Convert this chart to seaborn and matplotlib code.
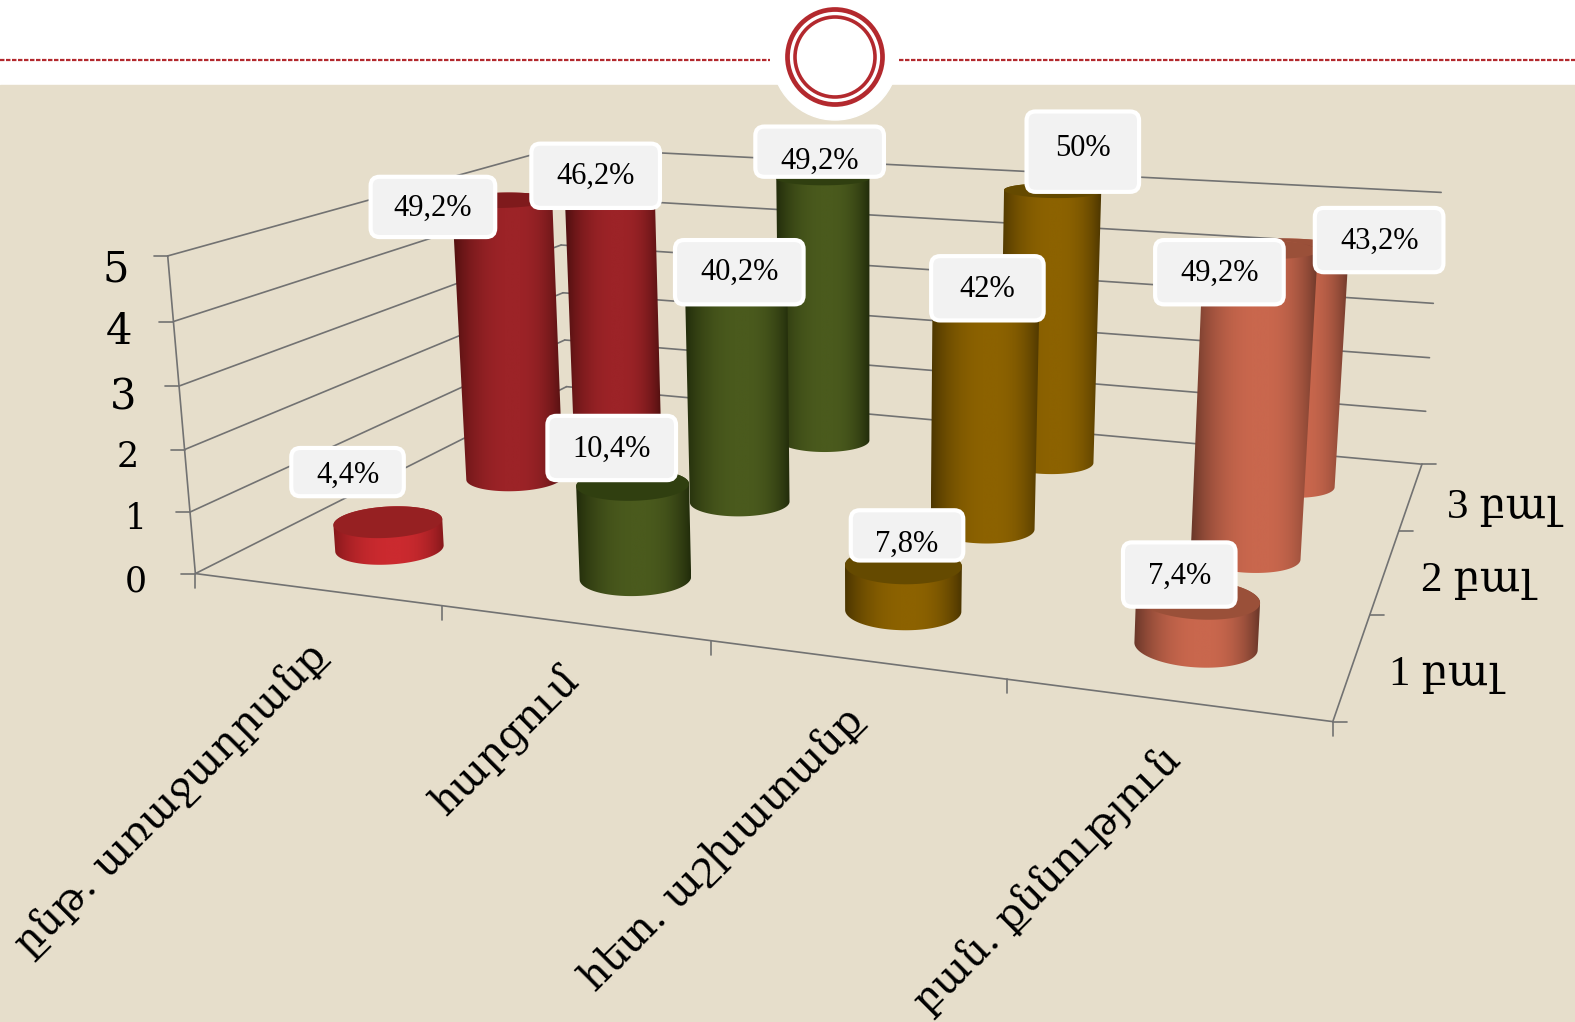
import numpy as np
import pandas as pd
import seaborn as sns
import matplotlib.pyplot as plt
from matplotlib.patches import Circle, FancyBboxPatch, Polygon, Rectangle

# chart values
categories = ["ընթ. առաջադրանք", "հարցում", "հետ. աշխատանք", "բան. քննություն"]
series_names = ["1 բալ", "2 բալ", "3 բալ"]
share_1 = [4.4, 10.4, 7.8, 7.4]
share_2 = [49.2, 40.2, 42, 49.2]
share_3 = [46.2, 49.2, 50, 43.2]
# bar heights
height_1 = [0.44, 1.5, 0.7, 0.7]
height_2 = [5.0, 4.02, 4.2, 4.95]
height_3 = [4.62, 5.0, 5.0, 4.25]
value_ticks = [0, 1, 2, 3, 4, 5]

SERIF = ["Liberation Serif", "DejaVu Serif"]
ARM = ["DejaVu Serif"]

# colours per category: centre, edge, top
body_mid = ["#9c2327", "#4a5a1d", "#8c6200", "#c9674d"]
body_edge = ["#4f0f0f", "#222c0b", "#4c3600", "#6a3729"]
top_colors = ["#7f1a1c", "#303f10", "#654a00", "#9a5039"]
# the short red bar is lit brighter than the rest
short_red = ("#cb2a2f", "#86181b", "#962022")

# label boxes: centre x, centre y, width, height, text y (series rows, category columns)
boxes_1 = [(346, 470, 114, 50, 473), (609, 446, 130, 66, 447), (903, 533, 114, 52, 542), (1174, 572, 114, 66, 574)]
boxes_2 = [(431, 206, 126, 62, 207), (736, 271, 130, 66, 271), (983, 287, 114, 66, 288), (1214, 271, 130, 66, 272)]
boxes_3 = [(593, 175, 130, 66, 176), (816, 151, 130, 52, 161), (1078, 151, 114, 82, 148), (1373, 239, 130, 66, 240)]
SCALE = 1575 / 1568

sns.set_theme(style="white")
plt.rcParams["font.family"] = SERIF

df = pd.DataFrame({"cat": np.tile(range(4), 3),
                   "row": np.repeat(range(3), 4),
                   "pct": share_1 + share_2 + share_3,
                   "height": height_1 + height_2 + height_3})

# camera fitted from the box corners of the chart: (category, depth, value) -> pixel
box_pts = np.array([[0, 0, 0], [0, 0, 5], [4, 0, 0], [4, 3, 0], [4, 3, 5], [0, 3, 0], [0, 3, 5]], float)
box_px = np.array([[193, 574], [170, 256], [1333, 721], [1421, 465], [1442, 192], [569, 386], [555, 148]], float)


def fit_camera(pts, px):
    rows, rhs = [], []
    for (x, y, z), (u, v) in zip(pts, px):
        rows.append([x, y, z, 1, 0, 0, 0, 0, -u * x, -u * y, -u * z])
        rows.append([0, 0, 0, 0, x, y, z, 1, -v * x, -v * y, -v * z])
        rhs += [u, v]
    p = np.linalg.lstsq(np.array(rows), np.array(rhs), rcond=None)[0]
    return np.append(p, 1).reshape(3, 4)


CAM = fit_camera(box_pts, box_px)


def project(x, y, z):
    x, y, z = np.broadcast_arrays(x, y, z)
    h = CAM @ np.vstack([x.ravel(), y.ravel(), z.ravel(), np.ones(x.size)])
    return h[0] / h[2], h[1] / h[2]


def convex_hull(points):
    points = sorted(set(points))

    def half(seq):
        out = []
        for p in seq:
            while len(out) > 1 and ((out[-1][0] - out[-2][0]) * (p[1] - out[-2][1])
                                    - (out[-1][1] - out[-2][1]) * (p[0] - out[-2][0])) <= 0:
                out.pop()
            out.append(p)
        return out[:-1]

    return half(points) + half(points[::-1])


fig = plt.figure(figsize=(15.75, 10.22), dpi=100)
ax = fig.add_axes([0, 0, 1, 1])

# background and header band
ax.add_patch(Rectangle((0, 85), 1575, 937, color="#e6decb", zorder=0))
ax.add_patch(Circle((835, 57), 63, color="white", zorder=1))
ax.plot([0, 770], [60, 60], color="#b3292e", lw=1.6, ls=(0, (2.0, 0.7)), zorder=1)
ax.plot([899, 1575], [60, 60], color="#b3292e", lw=1.6, ls=(0, (2.0, 0.7)), zorder=1)
ax.add_patch(Circle((835, 57), 47.5, fill=False, ec="#b3292e", lw=3.4, zorder=2))
ax.add_patch(Circle((835, 57), 40, fill=False, ec="#b3292e", lw=2.6, zorder=2))

GRID = "#727272"
GRID_LW = 1.2


def line3d(a, b):
    u, v = project(np.array([a[0], b[0]]), np.array([a[1], b[1]]), np.array([a[2], b[2]]))
    ax.plot(u, v, color=GRID, lw=GRID_LW, zorder=3)


# walls and floor
for val in value_ticks:
    line3d((0, 0, val), (0, 3, val))
    line3d((0, 3, val), (4, 3, val))
    u, v = project(0, 0, val)
    ax.plot([u[0] - 14, u[0]], [v[0], v[0]], color=GRID, lw=GRID_LW, zorder=3)
line3d((0, 0, 0), (0, 0, 5))
line3d((0, 0, 0), (4, 0, 0))
line3d((4, 0, 0), (4, 3, 0))
for c in range(5):
    u, v = project(c, 0, 0)
    ax.plot([u[0], u[0]], [v[0], v[0] + 14], color=GRID, lw=GRID_LW, zorder=3)
for d in range(4):
    u, v = project(4, d, 0)
    ax.plot([u[0], u[0] + 14], [v[0], v[0]], color=GRID, lw=GRID_LW, zorder=3)

RADIUS = 0.198
theta = np.linspace(0, 2 * np.pi, 181)


def draw_cylinder(c, r, height, order):
    mid, edge, top = body_mid[c], body_edge[c], top_colors[c]
    if c == 0 and r == 0:
        mid, edge, top = short_red
    ramp = sns.blend_palette([mid, edge], n_colors=100)
    cx, cy = c + 0.5, r + 0.5
    xs = cx + RADIUS * np.cos(theta)
    ys = cy + RADIUS * np.sin(theta)
    ub, vb = project(xs, ys, 0)
    ut, vt = project(xs, ys, height)
    lo, hi = min(ub.min(), ut.min()), max(ub.max(), ut.max())
    # horizontal shading, darkest at the two edges, clipped to the outline
    frac = np.linspace(0, 1, 200)
    dist = np.abs(frac - 0.55) / np.where(frac < 0.55, 0.55, 0.45)
    shade = np.array([ramp[min(int(d ** 2.4 * 100), 99)] for d in dist])[np.newaxis, :, :]
    img = ax.imshow(shade, extent=(lo, hi, max(vb.max(), vt.max()) + 3, min(vb.min(), vt.min()) - 3),
                    aspect="auto", interpolation="bilinear", zorder=order)
    outline = convex_hull(list(zip(ub, vb)) + list(zip(ut, vt)))
    img.set_clip_path(Polygon(outline, closed=True, transform=ax.transData))
    ax.fill(ut, vt, color=top, lw=0, zorder=order + 0.1)


# back row first so the nearer bars cover it
for row in df.sort_values("row", ascending=False).itertuples():
    draw_cylinder(row.cat, row.row, row.height, 10 + (2 - row.row) * 2)

# value labels
for pct, box in zip(df["pct"], boxes_1 + boxes_2 + boxes_3):
    bx, by, bw, bh, ty = [b * SCALE for b in box]
    patch = FancyBboxPatch((bx - bw / 2 + 7, by - bh / 2 + 7), bw - 14, bh - 14,
                           boxstyle="round,pad=6,rounding_size=9",
                           fc="#f2f2f2", ec="white", lw=3, zorder=30)
    ax.add_patch(patch)
    txt = ax.text(bx, ty, f"{pct:g}".replace(".", ",") + "%", ha="center", va="center",
                  fontsize=22, color="black", zorder=31, family=SERIF)
    txt.set_clip_path(patch)

# axis texts
val_xy = [(136, 581), (136, 519), (128, 457), (123, 398), (119, 332), (116, 269)]
val_size = [25, 25, 25, 30, 30, 30]
for val, (x, y), size in zip(value_ticks, val_xy, val_size):
    ax.text(x, y, str(val), ha="center", va="center", fontsize=size, color="black", zorder=5, family=ARM)

series_xy = [(1389, 675), (1421, 581), (1447, 508)]
for name, (x, y) in zip(series_names, series_xy):
    ax.text(x, y, name, ha="left", va="center", fontsize=31, color="black", zorder=5)

cat_xy = [(172, 800), (506, 741), (723, 850), (1048, 881)]
for name, (x, y) in zip(categories, cat_xy):
    ax.text(x, y, name, ha="center", va="center", rotation=45, rotation_mode="anchor",
            fontsize=29.5, color="black", zorder=5, family=ARM)

ax.set_xlim(0, 1575)
ax.set_ylim(1022, 0)
ax.axis("off")

fig.savefig("out.png", dpi=100)
